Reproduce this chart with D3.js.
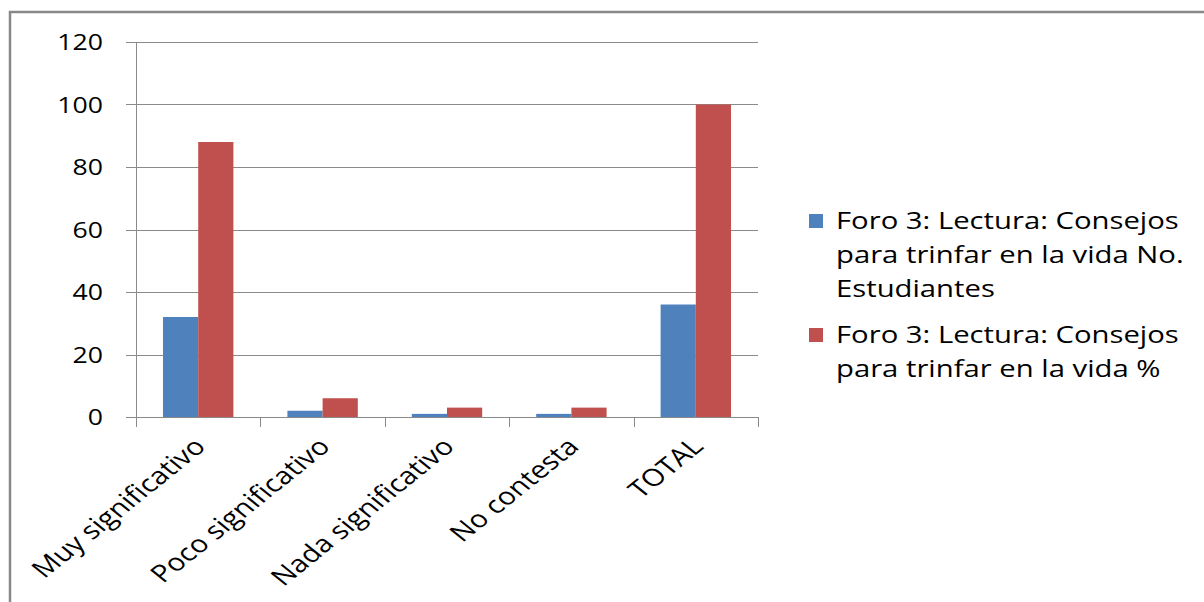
<!DOCTYPE html>
<html><head><meta charset="utf-8">
<script src="https://cdn.jsdelivr.net/npm/d3@7"></script>
<style>body{margin:0;background:#fff}</style>
</head><body><svg id="c" width="1204" height="602"></svg>
<script>
const categories = ["Muy significativo", "Poco significativo", "Nada significativo", "No contesta", "TOTAL"];
const seriesNames = ["Foro 3: Lectura: Consejos para trinfar en la vida No. Estudiantes", "Foro 3: Lectura: Consejos para trinfar en la vida %"];
const students = [32, 2, 1, 1, 36];
const percent = [88, 6, 3, 3, 100];
const yTicks = [0, 20, 40, 60, 80, 100, 120];
const legendLines = [["Foro 3: Lectura: Consejos", "para trinfar en la vida No.", "Estudiantes"], ["Foro 3: Lectura: Consejos", "para trinfar en la vida %"]];
const colors = ["#4F81BD", "#C0504D"];

const SX = 1.24;
const FONT = "'Open Sans', sans-serif";
const svg = d3.select("#c");

svg.append("rect").attr("x", 10).attr("y", 12).attr("width", 1230).attr("height", 620)
  .attr("fill", "#fff").attr("stroke", "#888").attr("stroke-width", 2.5);

const x = d3.scaleBand().domain(categories).range([136, 758]).paddingInner(0).paddingOuter(0);
const x1 = d3.scaleBand().domain([0, 1]).range([0, x.bandwidth()]).paddingInner(0).paddingOuter(0.767);
const y = d3.scaleLinear().domain([0, 120]).range([417, 42]);

const grid = "#8a8a8a";
svg.append("g").selectAll("line").data(yTicks).join("line")
  .attr("x1", 126).attr("x2", 758).attr("y1", d => Math.round(y(d)) + 0.5).attr("y2", d => Math.round(y(d)) + 0.5)
  .attr("stroke", grid).attr("stroke-width", 1);

function stext(g, px, py, str, anchor, size, rot) {
  return g.append("text")
    .attr("transform", `translate(${px},${py}) scale(${SX},1)` + (rot ? ` rotate(${rot})` : ""))
    .attr("text-anchor", anchor).attr("font-family", FONT).attr("font-size", size)
    .attr("fill", "#000").text(str);
}

const ylab = svg.append("g");
yTicks.forEach(t => stext(ylab, 103, y(t) + 8, String(t), "end", 21.5));

const series = [students, percent];
const bars = svg.append("g");
series.forEach((vals, si) => {
  bars.selectAll(null).data(categories).join("rect")
    .attr("x", d => x(d) + x1(si))
    .attr("width", x1.bandwidth())
    .attr("y", (d, i) => y(vals[i]))
    .attr("height", (d, i) => y(0) - y(vals[i]))
    .attr("fill", colors[si]);
});

svg.append("line").attr("x1", 136.5).attr("x2", 136.5).attr("y1", 42).attr("y2", 427).attr("stroke", grid);
svg.append("line").attr("x1", 126).attr("x2", 758).attr("y1", Math.round(y(0)) + 0.5).attr("y2", Math.round(y(0)) + 0.5).attr("stroke", grid);
const bounds = categories.map(c => x(c)).concat([x.range()[1]]);
svg.append("g").selectAll("line").data(bounds).join("line")
  .attr("x1", d => Math.round(d) + 0.5).attr("x2", d => Math.round(d) + 0.5)
  .attr("y1", 417).attr("y2", 427).attr("stroke", grid);

const xl = svg.append("g");
categories.forEach(c => stext(xl, x(c) + x.bandwidth() / 2 + 9, 448, c, "end", 24, -45));

const lg = svg.append("g");
const lineH = 34;
let ly = 229;
legendLines.forEach((lines, si) => {
  lg.append("rect").attr("x", 809).attr("y", ly - 15).attr("width", 14).attr("height", 14).attr("fill", colors[si]);
  lines.forEach((ln, k) => stext(lg, 836, ly + k * lineH, ln, "start", 23.6));
  ly += lines.length * lineH + 12;
});
</script></body></html>
